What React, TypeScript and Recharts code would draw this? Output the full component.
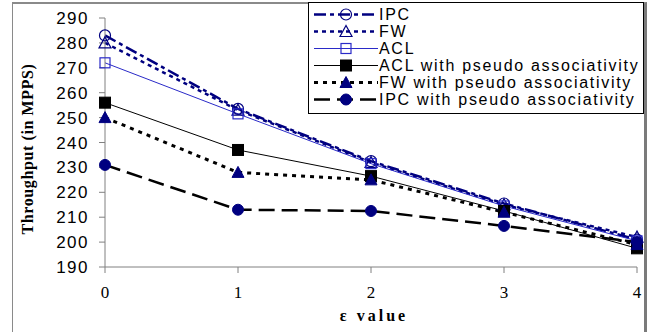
import { LineChart, Line, XAxis, YAxis, Legend } from "recharts";

// ε values on the x axis
const epsValues = [0, 1, 2, 3, 4];
const yTicks = [190, 200, 210, 220, 230, 240, 250, 260, 270, 280, 290];

// throughput in MPPS
const ipc = [283, 253.5, 232.5, 215.5, 201];
const fw = [280, 253, 232, 215, 202];
const acl = [272, 251.5, 231.5, 214.5, 200.5];
const aclPseudo = [256, 237, 226.5, 212.5, 197.5];
const fwPseudo = [250, 228, 225, 212, 199];
const ipcPseudo = [231, 213, 212.5, 206.5, 200];

const data = epsValues.map((x, i) => ({
  x,
  ipc: ipc[i],
  fw: fw[i],
  acl: acl[i],
  aclPseudo: aclPseudo[i],
  fwPseudo: fwPseudo[i],
  ipcPseudo: ipcPseudo[i],
}));

const NAVY = "#000080";

type Shape = "circle" | "triangle" | "square";

const series = [
  { key: "ipc", name: "IPC", color: NAVY, width: 2.5, dash: "12 4 4 4", shape: "circle" as Shape, filled: false },
  { key: "fw", name: "FW", color: NAVY, width: 2.5, dash: "4 4", shape: "triangle" as Shape, filled: false },
  { key: "acl", name: "ACL", color: "#2a2ac8", width: 1, dash: undefined, shape: "square" as Shape, filled: false },
  { key: "aclPseudo", name: "ACL with pseudo associativity", color: "#000", width: 1, dash: undefined, shape: "square" as Shape, filled: true },
  { key: "fwPseudo", name: "FW with pseudo associativity", color: "#000", width: 3, dash: "4 5", shape: "triangle" as Shape, filled: true },
  { key: "ipcPseudo", name: "IPC with pseudo associativity", color: "#000", width: 2.5, dash: "16 7", shape: "circle" as Shape, filled: true },
];

function Marker({ cx, cy, shape, filled, color }: { cx: number; cy: number; shape: Shape; filled: boolean; color: string }) {
  if (cx == null || cy == null) return null;
  if (shape === "circle") {
    return filled ? (
      <circle cx={cx} cy={cy} r={5.5} fill={NAVY} stroke={NAVY} strokeWidth={1} />
    ) : (
      <circle cx={cx} cy={cy} r={5.5} fill="none" stroke={NAVY} strokeWidth={1.2} />
    );
  }
  if (shape === "triangle") {
    const pts = `${cx},${cy - 6} ${cx - 6},${cy + 5} ${cx + 6},${cy + 5}`;
    return filled ? (
      <polygon points={pts} fill={NAVY} stroke={NAVY} strokeWidth={1} />
    ) : (
      <polygon points={pts} fill="none" stroke={NAVY} strokeWidth={1.2} />
    );
  }
  return filled ? (
    <rect x={cx - 5.5} y={cy - 5.5} width={11} height={11} fill="#000" stroke="#000" />
  ) : (
    <rect x={cx - 5} y={cy - 5} width={10} height={10} fill="none" stroke={color} strokeWidth={1.2} />
  );
}

const renderLegend = () => (
  <div
    style={{
      border: "1px solid #000",
      background: "#fff",
      boxSizing: "border-box",
      width: 336,
      height: 112,
      paddingTop: 3,
      fontFamily: "'Liberation Sans', Arial, sans-serif",
      fontSize: 16,
      letterSpacing: 1.7,
      color: "#000",
    }}
  >
    {series.map((s) => (
      <div key={s.key} style={{ display: "flex", alignItems: "center", height: 17 }}>
        <svg width={70} height={17} style={{ display: "block" }}>
          <line x1={5} y1={8.5} x2={69} y2={8.5} stroke={s.color} strokeWidth={s.width} strokeDasharray={s.dash} />
          <Marker cx={37} cy={8.5} shape={s.shape} filled={s.filled} color={s.color} />
        </svg>
        <span style={{ lineHeight: "17px", whiteSpace: "nowrap" }}>{s.name}</span>
      </div>
    ))}
  </div>
);

const yTitle = () => (
  <text
    x={33}
    y={149}
    transform="rotate(-90 33 149)"
    textAnchor="middle"
    fontFamily="'Liberation Serif', 'Times New Roman', serif"
    fontWeight="bold"
    fontSize={16}
    letterSpacing={0.6}
    fill="#000"
  >
    Throughput (in MPPS)
  </text>
);

const xTitle = () => (
  <text
    x={374}
    y={321}
    textAnchor="middle"
    fontFamily="'Liberation Serif', 'Times New Roman', serif"
    fontWeight="bold"
    fontSize={16}
    letterSpacing={3}
    fill="#000"
  >
    ε value
  </text>
);

export default function App() {
  return (
    <div style={{ position: "absolute", left: 0, top: 0, width: 656, height: 332, background: "#fff", overflow: "hidden" }}>
      <div
        style={{
          position: "absolute",
          left: 12,
          top: 2,
          width: 631,
          height: 340,
          borderLeft: "1px solid #8a8a8a",
          borderTop: "2px solid #8a8a8a",
          borderRight: "3px solid #7a7a7a",
        }}
      />
      <LineChart width={656} height={332} data={data} margin={{ top: 18, right: 19, left: 0, bottom: 0 }} style={{ position: "absolute", left: 0, top: 0 }}>
        <XAxis
          dataKey="x"
          type="number"
          domain={[0, 4]}
          ticks={epsValues}
          height={65}
          stroke="#808080"
          tickSize={6}
          tickMargin={13}
          tick={{ fill: "#000", fontSize: 17, fontFamily: "'Liberation Serif', 'Times New Roman', serif" }}
          label={xTitle}
        />
        <YAxis
          domain={[190, 290]}
          ticks={yTicks}
          width={105}
          stroke="#808080"
          tickSize={6}
          tickMargin={10}
          interval={0}
          tick={{ fill: "#000", fontSize: 17, letterSpacing: 1.5, fontFamily: "'Liberation Sans', Arial, sans-serif" }}
          label={yTitle}
        />
        <Legend
          layout="vertical"
          verticalAlign="middle"
          align="center"
          content={renderLegend}
          wrapperStyle={{ position: "absolute", left: 308, top: 2, width: 336 }}
        />
        {series.map((s) => (
          <Line
            key={s.key}
            dataKey={s.key}
            name={s.name}
            type="linear"
            stroke={s.color}
            strokeWidth={s.width}
            strokeDasharray={s.dash}
            isAnimationActive={false}
            dot={(p: any) => (
              <Marker key={`${s.key}-${p.index}`} cx={p.cx} cy={p.cy} shape={s.shape} filled={s.filled} color={s.color} />
            )}
            activeDot={false}
          />
        ))}
      </LineChart>
    </div>
  );
}
